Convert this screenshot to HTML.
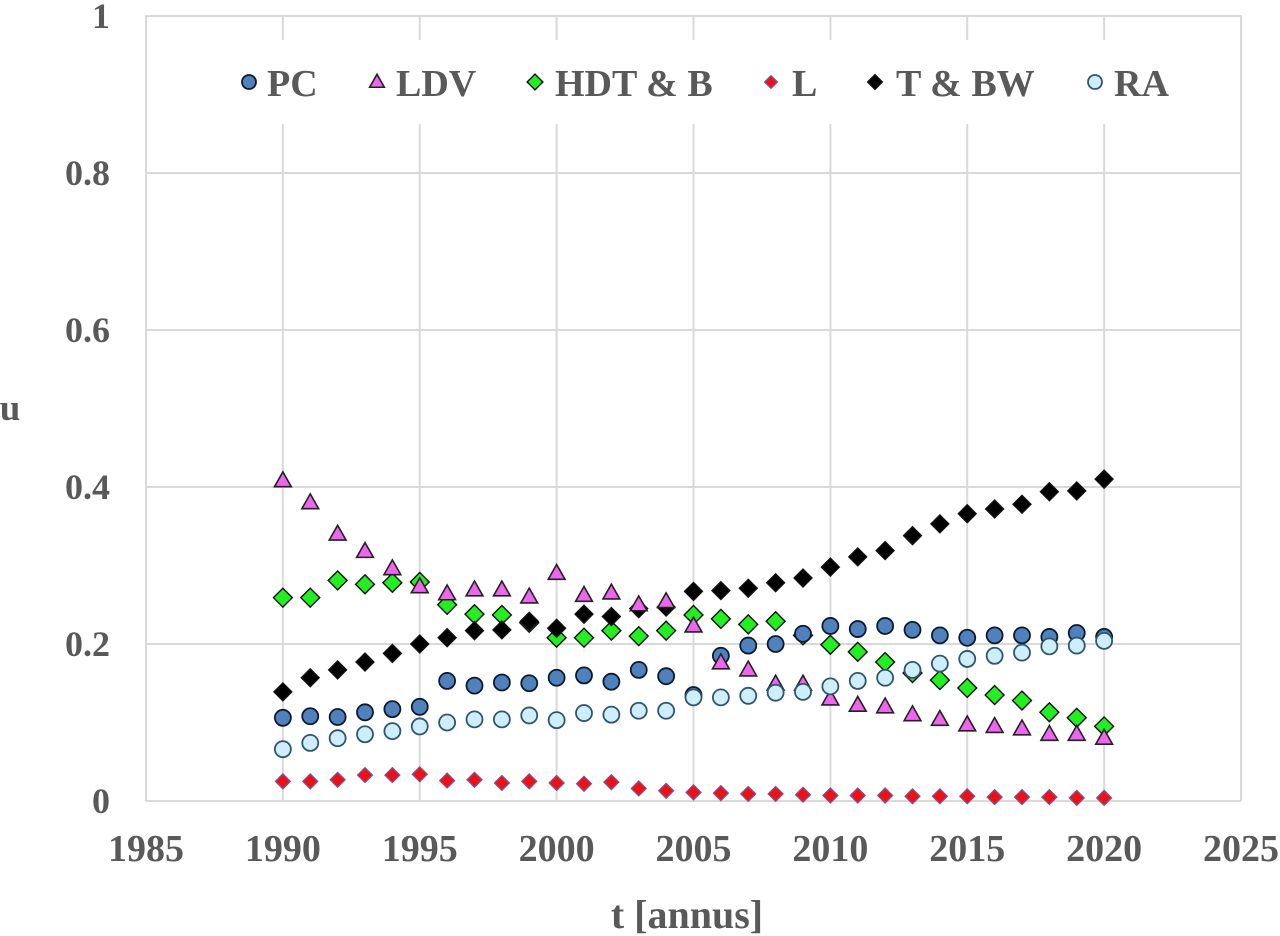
<!DOCTYPE html>
<html><head><meta charset="utf-8"><style>
html,body{margin:0;padding:0;background:#fff;}
svg{display:block;}
text{font-family:"Liberation Serif",serif;font-weight:bold;fill:#595959;}
</style></head><body>
<svg id="chart" width="1280" height="936">
<g id="grid"></g>
<g id="yticks"></g>
<g id="xticks"></g>
<rect x="225" y="40" width="965" height="84" fill="#fff"/>
<g id="marks"></g>
<g id="legend"></g>
<text x="687" y="928" text-anchor="middle" font-size="40">t [annus]</text>
<text x="10" y="420" text-anchor="middle" font-size="37">u</text>
</svg>
<script>
const years = [1990,1991,1992,1993,1994,1995,1996,1997,1998,1999,2000,2001,2002,2003,2004,2005,2006,2007,2008,2009,2010,2011,2012,2013,2014,2015,2016,2017,2018,2019,2020];
const pcValues = [0.106,0.108,0.107,0.113,0.117,0.120,0.153,0.147,0.151,0.150,0.157,0.160,0.152,0.167,0.159,0.135,0.185,0.198,0.200,0.213,0.223,0.219,0.223,0.218,0.211,0.208,0.211,0.211,0.209,0.214,0.209];
const ldvValues = [0.408,0.380,0.340,0.318,0.296,0.273,0.264,0.269,0.269,0.260,0.290,0.262,0.265,0.250,0.254,0.223,0.176,0.167,0.149,0.149,0.130,0.122,0.120,0.110,0.104,0.097,0.095,0.092,0.085,0.085,0.080];
const hdtValues = [0.259,0.259,0.281,0.276,0.278,0.279,0.250,0.238,0.237,0.227,0.208,0.208,0.217,0.210,0.217,0.237,0.232,0.225,0.229,0.211,0.199,0.190,0.177,0.163,0.154,0.144,0.135,0.128,0.113,0.106,0.095];
const lValues = [0.025,0.025,0.027,0.033,0.033,0.034,0.026,0.027,0.023,0.025,0.023,0.022,0.024,0.016,0.013,0.011,0.010,0.009,0.009,0.008,0.007,0.007,0.007,0.006,0.006,0.006,0.005,0.005,0.005,0.004,0.004];
const tbwValues = [0.139,0.157,0.167,0.177,0.188,0.200,0.208,0.217,0.218,0.229,0.220,0.238,0.235,0.245,0.247,0.267,0.268,0.271,0.278,0.284,0.298,0.311,0.319,0.338,0.353,0.366,0.372,0.378,0.394,0.395,0.410];
const raValues = [0.066,0.074,0.080,0.085,0.089,0.095,0.100,0.104,0.104,0.109,0.103,0.112,0.110,0.115,0.115,0.132,0.132,0.134,0.138,0.139,0.146,0.153,0.157,0.167,0.175,0.181,0.185,0.189,0.197,0.198,0.204];
const xTicks = [1985,1990,1995,2000,2005,2010,2015,2020,2025];
const yTicks = [0,0.2,0.4,0.6,0.8,1];
const yTickLabels = ["0","0.2","0.4","0.6","0.8","1"];

const X0=146,X1=1241,Y0=801,Y1=16;
const xs = v => X0 + (v-1985)/(2025-1985)*(X1-X0);
const ys = v => Y0 - v*(Y0-Y1);
const NS="http://www.w3.org/2000/svg";
function mk(tag, attrs, parent){const e=document.createElementNS(NS,tag);for(const k in attrs)e.setAttribute(k,attrs[k]);parent.appendChild(e);return e;}

const grid=document.getElementById('grid');
xTicks.forEach(t=>{const l=mk('line',{x1:xs(t),x2:xs(t),y1:Y1-1,y2:Y0,stroke:'#d9d9d9','stroke-width':2},grid);

});
yTicks.forEach(t=>{const l=mk('line',{x1:X0,x2:X1,y1:ys(t),y2:ys(t),stroke:'#d9d9d9','stroke-width':2},grid);

});
const yt=document.getElementById('yticks');
yTicks.forEach((t,i)=>{const e=mk('text',{x:110,y:ys(t)+12,'text-anchor':'end','font-size':36},yt);e.textContent=yTickLabels[i];

});
const xt=document.getElementById('xticks');
xTicks.forEach(t=>{const e=mk('text',{x:xs(t),y:861,'text-anchor':'middle','font-size':38},xt);e.textContent=String(t);

});

function marker(parent,type,x,y,fill,s){
  let e;
  if(type==='circle') e=mk('circle',{cx:x,cy:y,r:s,fill:fill,stroke:fill==='#cdeefa'?'#2f5670':'#0d1a2e','stroke-width':1.8},parent);
  else if(type==='tri') e=mk('polygon',{points:`${x},${y-s*1.1} ${x-s*1.05},${y+s*0.75} ${x+s*1.05},${y+s*0.75}`,fill:fill,stroke:'#222','stroke-width':1.6},parent);
  else if(type==='dia'){const d=s*1.05;e=mk('polygon',{points:`${x},${y-d} ${x+d},${y} ${x},${y+d} ${x-d},${y}`,fill:fill,stroke:fill==='#ee1111'?'#8a4a8a':'#111','stroke-width':1.4},parent);}
  return e;
}
const series=[
 {name:'HDT & B',key:'hdt',vals:hdtValues,type:'dia',fill:'#22ee22',s:9},
 {name:'PC',key:'pc',vals:pcValues,type:'circle',fill:'#4f81bd',s:8},
 {name:'T & BW',key:'tbw',vals:tbwValues,type:'dia',fill:'#000000',s:8.5},
 {name:'LDV',key:'ldv',vals:ldvValues,type:'tri',fill:'#ee66ee',s:8},
 {name:'RA',key:'ra',vals:raValues,type:'circle',fill:'#cdeefa',s:8},
 {name:'L',key:'l',vals:lValues,type:'dia',fill:'#ee1111',s:7}
];
const marks=document.getElementById('marks');
series.forEach(sr=>{
  const g=mk('g',{},marks);
  
  
  sr.vals.forEach((v,i)=>{const e=marker(g,sr.type,xs(years[i]),ys(v),sr.fill,sr.s);
    
    });
});
const legendItems=[
 {name:'PC',type:'circle',fill:'#4f81bd',s:7,mx:249,tx:267},
 {name:'LDV',type:'tri',fill:'#ee66ee',s:7,mx:377,tx:396},
 {name:'HDT & B',type:'dia',fill:'#22ee22',s:7.5,mx:535,tx:555},
 {name:'L',type:'dia',fill:'#ee1111',s:6,mx:771,tx:792},
 {name:'T & BW',type:'dia',fill:'#000000',s:7,mx:875,tx:896},
 {name:'RA',type:'circle',fill:'#cdeefa',s:7,mx:1095,tx:1114}
];
const lg=document.getElementById('legend');
legendItems.forEach(it=>{
  const g=mk('g',{},lg);
  
  
  marker(g,it.type,it.mx,82,it.fill,it.s);
  const t=mk('text',{x:it.tx,y:96,'font-size':38},g);t.textContent=it.name;
});
</script>
</body></html>
